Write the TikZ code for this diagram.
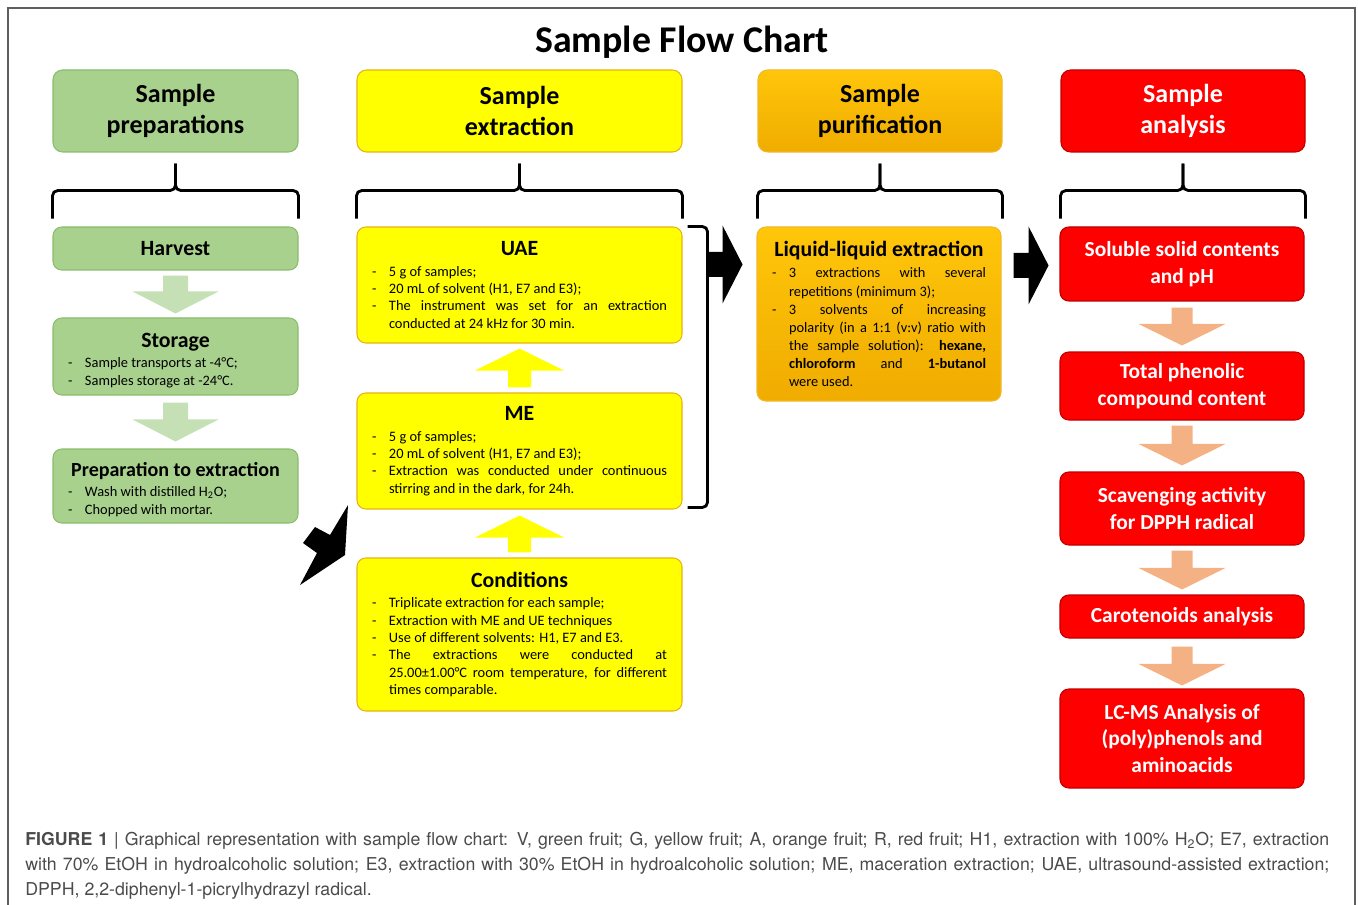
\documentclass[tikz,border=0pt]{standalone}
\usepackage{fontspec}
\setmainfont{Carlito}
\newfontfamily\capfont{TeX Gyre Heros}
\usepackage{xcolor}
\definecolor{prepGreen}{RGB}{169,209,142}
\definecolor{prepEdge}{RGB}{138,189,108}
\definecolor{prepArrow}{RGB}{197,224,180}
\definecolor{extYellow}{RGB}{255,255,0}
\definecolor{extEdge}{RGB}{228,180,20}
\definecolor{purLight}{RGB}{255,198,10}
\definecolor{purDark}{RGB}{240,172,0}
\definecolor{purEdge}{RGB}{240,185,40}
\definecolor{anaRed}{RGB}{255,0,0}
\definecolor{anaEdge}{RGB}{190,0,0}
\definecolor{anaArrow}{RGB}{244,177,131}
\definecolor{frameGray}{RGB}{95,95,95}
\definecolor{capGray}{RGB}{75,75,75}
\usepackage{tikz}
\usetikzlibrary{calc}
\newlength\pxl
\setlength\pxl{0.02cm}
\tikzstyle{headbox}=[rectangle, rounded corners=5.5pt, minimum height=82\pxl, align=center, line width=0.6pt, font=\fontsize{14.8}{17.6}\selectfont\bfseries]
\tikzstyle{stepbox}=[rectangle, rounded corners=5pt, inner xsep=15\pxl, inner ysep=0pt, align=justify, line width=0.6pt, font=\fontsize{8.2}{9.9}\selectfont]
\tikzstyle{greenbox}=[stepbox, draw=prepEdge, fill=prepGreen, text width=215\pxl]
\tikzstyle{yellowbox}=[stepbox, draw=extEdge, fill=extYellow, text width=295\pxl]
\tikzstyle{orangebox}=[stepbox, draw=purEdge, top color=purLight, bottom color=purDark, text width=214\pxl]
\tikzstyle{redbox}=[rectangle, rounded corners=5pt, draw=anaEdge, fill=anaRed, text=white, minimum width=244\pxl, align=center, line width=0.6pt, font=\fontsize{12.2}{15}\selectfont\bfseries]
\tikzstyle{bracketline}=[line width=1.6pt, rounded corners=3pt]
\newcommand{\boxtitle}[2][12.4]{{\centering\fontsize{#1}{#1}\selectfont\bfseries #2\par}\vspace{1.8pt}}
\newcommand{\itm}{\par\noindent\hangindent=17\pxl\hangafter=1\makebox[17\pxl][l]{-}}
% block arrow: tail, tip, half shaft, half head, head length, style
\newcommand{\fatarrow}[6]{%
  \coordinate (fa-h) at ($(#2)!#5!(#1)$);
  \fill[#6] ($(#1)!#3!90:(#2)$) -- ($(fa-h)!#3!90:(#2)$) -- ($(fa-h)!#4!90:(#2)$) -- (#2)
    -- ($(fa-h)!#4!-90:(#2)$) -- ($(fa-h)!#3!-90:(#2)$) -- ($(#1)!#3!-90:(#2)$) -- cycle;}
% curly bracket under a header box
\newcommand{\headbrace}[1]{%
  \draw[bracketline] ($(#1.south)+(0,11)$) -- ($(#1.south)+(0,38)$) -| ($(#1.south west)+(0,66)$);
  \draw[bracketline] ($(#1.south)+(0,11)$) -- ($(#1.south)+(0,38)$) -| ($(#1.south east)+(0,66)$);}

\begin{document}
\begin{tikzpicture}[x=0.02cm, y=-0.02cm]
  \useasboundingbox (0,0) rectangle (1358,905);
  \draw[line width=1.1pt, frameGray] (8,905) -- (8,8) -- (1355,8) -- (1355,905);

  \node[font=\fontsize{21.5}{24}\selectfont\bfseries] (title) at (682,42) {Sample Flow Chart};

  % Headers
  \node[headbox, draw=prepEdge, fill=prepGreen, minimum width=245\pxl] (hprep) at (175.5,111) {Sample\\preparations};
  \node[headbox, draw=extEdge, fill=extYellow, minimum width=325\pxl] (hext) at (519.5,111) {Sample\\extraction};
  \node[headbox, draw=purEdge, top color=purLight, bottom color=purDark, minimum width=244\pxl] (hpur) at (880,111) {Sample\\purification};
  \node[headbox, draw=anaEdge, fill=anaRed, text=white, minimum width=244\pxl] (hana) at (1183,111) {Sample\\analysis};

  \headbrace{hprep}
  \headbrace{hext}
  \headbrace{hpur}
  \headbrace{hana}

  % Preparations
  \node[greenbox, minimum height=43\pxl] (harvest) at (175.5,248.5) {\boxtitle{Harvest}};
  \node[greenbox, minimum height=77\pxl] (storage) at (175.5,356.5) {\boxtitle{\rule{0pt}{12.7pt}Storage}\itm Sample transports at -4°C;\itm Samples storage at -24°C.\par};
  \node[greenbox, minimum height=74\pxl] (prep) at (175.5,486) {\boxtitle[11.4]{\rule{0pt}{12pt}Preparation to extraction}\itm Wash with distilled H\textsubscript{2}O;\itm Chopped with mortar.\par};

  \coordinate (g1) at ($(harvest.south)+(0,5)$);
  \coordinate (g2) at ($(storage.north)+(0,-4)$);
  \coordinate (g3) at ($(storage.south)+(0,7)$);
  \coordinate (g4) at ($(prep.north)+(0,-7)$);
  \fatarrow{g1}{g2}{0.25cm}{0.86cm}{0.44cm}{prepArrow}
  \fatarrow{g3}{g4}{0.25cm}{0.86cm}{0.44cm}{prepArrow}

  % Extraction
  \node[yellowbox, minimum height=116\pxl] (uae) at (519.5,285) {\boxtitle{UAE}\itm 5 g of samples;\itm 20 mL of solvent (H1, E7 and E3);\itm The instrument was set for an extraction\linebreak conducted at 24 kHz for 30 min.\par};
  \node[yellowbox, minimum height=116\pxl] (me) at (519.5,451) {\boxtitle{ME}\itm 5 g of samples;\itm 20 mL of solvent (H1, E7 and E3);\itm Extraction was conducted under continuous\linebreak stirring and in the dark, for 24h.\par};
  \node[yellowbox, minimum height=153\pxl] (cond) at (519.5,634.5) {\boxtitle{Conditions}\itm Triplicate extraction for each sample;\itm Extraction with ME and UE techniques\itm Use of different solvents: H1, E7 and E3.\itm The extractions were conducted at\linebreak 25.00±1.00°C room temperature, for different\linebreak times comparable.\par};

  \coordinate (y1) at ($(me.north)+(0,-5)$);
  \coordinate (y2) at ($(uae.south)+(0,5)$);
  \coordinate (y3) at ($(cond.north)+(0,-5)$);
  \coordinate (y4) at ($(me.south)+(0,6)$);
  \fatarrow{y1}{y2}{0.23cm}{0.89cm}{0.44cm}{extYellow}
  \fatarrow{y3}{y4}{0.23cm}{0.89cm}{0.44cm}{extYellow}

  \fill[black] (348,505) -- (345,555) -- (300,585) -- (317,553) -- (303,543) -- (315,527) -- (330,535) -- cycle;

  \draw[bracketline] ($(uae.north east)+(5,0)$) -- ($(uae.north east)+(25,0)$) -- ($(me.south east)+(25,-2)$) -- ($(me.south east)+(5,-2)$);
  \coordinate (b1) at ($(uae.north east)+(25,38)$);
  \coordinate (b2) at ($(uae.north east)+(60,38)$);
  \fatarrow{b1}{b2}{0.25cm}{0.78cm}{0.40cm}{black}

  % Purification
  \node[orangebox, minimum height=174\pxl, font=\fontsize{8.2}{10.3}\selectfont] (lle) at (879,314) {\boxtitle{Liquid-liquid extraction}\itm 3 extractions with several\linebreak repetitions (minimum 3);\itm 3 solvents of increasing\linebreak polarity (in a 1:1 (v:v) ratio with\linebreak the sample solution): \textbf{hexane,}\linebreak \textbf{chloroform} and \textbf{1-butanol}\linebreak were used.\par};

  \coordinate (b3) at ($(lle.north east)+(12,39)$);
  \coordinate (b4) at ($(lle.north east)+(47,39)$);
  \fatarrow{b3}{b4}{0.25cm}{0.78cm}{0.40cm}{black}

  % Analysis
  \node[redbox, minimum height=74\pxl] (ssc) at (1182,264) {Soluble solid contents\\and pH};
  \node[redbox, minimum height=68\pxl] (tpc) at (1182,386) {Total phenolic\\compound content};
  \node[redbox, minimum height=73\pxl] (dpph) at (1182,508.5) {Scavenging activity\\for DPPH radical};
  \node[redbox, minimum height=43\pxl] (caro) at (1182,616.5) {Carotenoids analysis};
  \node[redbox, minimum height=99\pxl] (lcms) at (1182,738.5) {LC-MS Analysis of\\(poly)phenols and\\aminoacids};

  \coordinate (r1) at ($(ssc.south)+(0,6)$);
  \coordinate (r2) at ($(tpc.north)+(0,-6)$);
  \coordinate (r3) at ($(tpc.south)+(0,5)$);
  \coordinate (r4) at ($(dpph.north)+(0,-6)$);
  \coordinate (r5) at ($(dpph.south)+(0,5)$);
  \coordinate (r6) at ($(caro.north)+(0,-5)$);
  \coordinate (r7) at ($(caro.south)+(0,8)$);
  \coordinate (r8) at ($(lcms.north)+(0,-3)$);
  \fatarrow{r1}{r2}{0.21cm}{0.87cm}{0.43cm}{anaArrow}
  \fatarrow{r3}{r4}{0.21cm}{0.87cm}{0.43cm}{anaArrow}
  \fatarrow{r5}{r6}{0.21cm}{0.87cm}{0.43cm}{anaArrow}
  \fatarrow{r7}{r8}{0.21cm}{0.87cm}{0.43cm}{anaArrow}

  % Caption
  \node[anchor=north west, inner sep=0pt, text width=1304\pxl, align=justify, text=capGray, font=\capfont\fontsize{10.1}{14.2}\selectfont] (caption) at (25,832)
    {{\bfseries FIGURE 1} | Graphical representation with sample flow chart: V, green fruit; G, yellow fruit; A, orange fruit; R, red fruit; H1, extraction with 100\% H\textsubscript{2}O; E7, extraction\linebreak
     with 70\% EtOH in hydroalcoholic solution; E3, extraction with 30\% EtOH in hydroalcoholic solution; ME, maceration extraction; UAE, ultrasound-assisted extraction;\linebreak
     DPPH, 2,2-diphenyl-1-picrylhydrazyl radical.};
\end{tikzpicture}
\end{document}
